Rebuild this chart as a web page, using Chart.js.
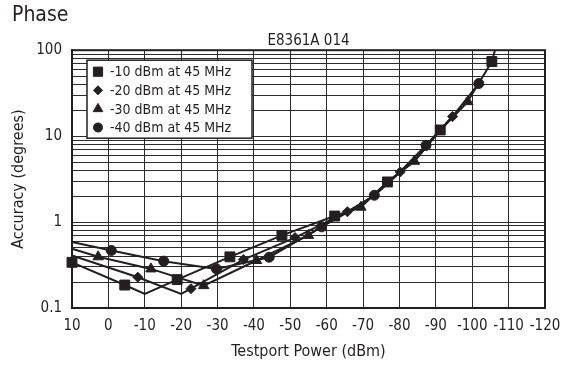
<!DOCTYPE html>
<html>
<head>
<meta charset="utf-8">
<script src="https://cdn.jsdelivr.net/npm/chart.js@4/dist/chart.umd.min.js"></script>
<style>
  html, body { margin: 0; padding: 0; background: #fff; }
  #wrap { width: 565px; height: 368px; }
</style>
</head>
<body>
<div id="wrap"><canvas id="phaseChart"></canvas></div>
<script>
const FONT = "'DejaVu Sans Condensed', 'Liberation Sans Narrow', sans-serif";
const INK = '#231f20';

const seriesNames = ['-10 dBm at 45 MHz', '-20 dBm at 45 MHz', '-30 dBm at 45 MHz', '-40 dBm at 45 MHz'];
const xTickValues = [10, 0, -10, -20, -30, -40, -50, -60, -70, -80, -90, -100, -110, -120];
const yTickLabels = [0.1, 1, 10, 100];

// mark: 1 = a marker is drawn at that point, 0 = only a bend of the line
// -10 dBm (squares)
const sqX    = [10,   -4.5,  -10,   -18.9, -33.4, -47.7, -62.2, -69.4, -76.7, -84.1, -91.2, -98.8, -105.4, -107];
const sqY    = [0.34, 0.185, 0.146, 0.214, 0.394, 0.70,  1.175, 1.50,  2.93,  5.1,   11.8,  25.5,  73.8,   130];
const sqMark = [1,    1,     0,     1,     1,     1,     1,     0,     1,     0,     1,     0,     1,      0];

// -20 dBm (diamonds)
const diX    = [10,   -8.1,  -20,   -22.7, -37.1, -51.3, -65.7, -73.1, -80.2, -87.3, -94.6];
const diY    = [0.408, 0.228, 0.146, 0.168, 0.366, 0.66, 1.32,  2.03,  3.83,  7.8,   16.9];
const diMark = [0,    1,     0,     1,     1,     1,     1,     0,     1,     0,     1];

// -30 dBm (triangles)
const trX    = [10,   2.8,   -11.7, -26.2, -40.7, -55,  -62.2, -69.4, -76.7, -84.1, -91.2, -98.8];
const trY    = [0.489, 0.394, 0.285, 0.182, 0.357, 0.70, 1.14,  1.49,  2.95,  5.1,   11.7,  25.2];
const trMark = [0,    1,     1,     1,     1,     1,    0,     1,     0,     1,     0,     1];

// -40 dBm (circles)
const ciX    = [10,   -0.8,  -15.2, -29.7, -44.2, -58.6, -65.7, -73.1, -80.2, -87.3, -94.6, -101.8];
const ciY    = [0.585, 0.467, 0.351, 0.285, 0.39, 0.88,  1.30,  2.05,  3.85,  7.8,   17.0,  40.9];
const ciMark = [0,    1,     1,     1,     1,     1,     0,     1,     0,     1,     0,     1];

const toPoints = (xs, ys) => xs.map((x, i) => ({ x: x, y: ys[i] }));

const makeSeries = (label, xs, ys, marks, style, radius) => ({
  label: label,
  data: toPoints(xs, ys),
  borderColor: INK,
  backgroundColor: INK,
  borderWidth: 2,
  tension: 0,
  pointStyle: style,
  legendRadius: radius,
  pointRadius: (c) => (marks[c.dataIndex] ? radius : 0),
  pointHoverRadius: (c) => (marks[c.dataIndex] ? radius : 0),
  pointBorderWidth: 1,
  pointBorderColor: INK,
  pointBackgroundColor: INK,
  clip: { left: 10, top: 0, right: 10, bottom: 10 }
});

// frame, subtitle and the boxed legend inside the plot
const boxPlugin = {
  id: 'boxPlugin',
  afterDraw(chart) {
    const { ctx, chartArea: a } = chart;
    ctx.save();
    ctx.strokeStyle = INK;
    ctx.lineWidth = 2;
    ctx.strokeRect(a.left, a.top, a.right - a.left, a.bottom - a.top);

    ctx.fillStyle = INK;
    ctx.font = '15px ' + FONT;
    ctx.textAlign = 'center';
    ctx.textBaseline = 'alphabetic';
    ctx.fillText('E8361A 014', (a.left + a.right) / 2, a.top - 5);

    const bx = a.left + 15, by = a.top + 10, bw = 165, bh = 78;
    ctx.fillStyle = '#fff';
    ctx.fillRect(bx, by, bw, bh);
    ctx.lineWidth = 1.5;
    ctx.strokeRect(bx, by, bw, bh);

    ctx.font = '14px ' + FONT;
    ctx.textAlign = 'left';
    ctx.textBaseline = 'middle';
    chart.data.datasets.forEach((ds, i) => {
      const y = by + 11.5 + i * 18.6;
      ctx.fillStyle = INK;
      ctx.strokeStyle = INK;
      ctx.lineWidth = 1;
      Chart.helpers.drawPoint(ctx, { pointStyle: ds.pointStyle, radius: ds.legendRadius - 0.5, borderWidth: 1, rotation: 0 }, bx + 11, y);
      ctx.fillStyle = INK;
      ctx.fillText(ds.label, bx + 23, y + 1);
    });
    ctx.restore();
  }
};

const ctxPhase = document.getElementById('phaseChart').getContext('2d');

const phaseChart = new Chart(ctxPhase, {
  type: 'line',
  data: {
    datasets: [
      makeSeries(seriesNames[0], sqX, sqY, sqMark, 'rect', 7),
      makeSeries(seriesNames[1], diX, diY, diMark, 'rectRot', 5),
      makeSeries(seriesNames[2], trX, trY, trMark, 'triangle', 6),
      makeSeries(seriesNames[3], ciX, ciY, ciMark, 'circle', 5)
    ]
  },
  options: {
    responsive: true,
    maintainAspectRatio: false,
    animation: false,
    layout: { padding: { left: 12, right: 20, top: 0, bottom: 0 } },
    plugins: {
      legend: { display: false },
      tooltip: { enabled: false },
      title: {
        display: true,
        text: 'Phase',
        align: 'start',
        color: INK,
        font: { family: FONT, size: 21, weight: 'normal', lineHeight: 1.2 },
        padding: { top: 3, bottom: 22 }
      }
    },
    scales: {
      x: {
        type: 'linear',
        min: -120,
        max: 10,
        reverse: true,
        afterBuildTicks: (scale) => { scale.ticks = xTickValues.map(v => ({ value: v })); },
        afterFit: (scale) => {
          scale.height = 60;
          scale.paddingLeft = 0;
          scale.paddingRight = 0;
        },
        ticks: {
          color: INK,
          font: { family: FONT, size: 15 },
          padding: 9,
          maxRotation: 0,
          autoSkip: false,
          callback: (v) => String(v)
        },
        grid: { color: '#2b2b2b', lineWidth: 1, drawTicks: false },
        border: { color: INK, width: 2 },
        title: {
          display: true,
          text: 'Testport Power (dBm)',
          color: INK,
          font: { family: FONT, size: 16, lineHeight: 1 },
          padding: { top: 0, bottom: 8 }
        }
      },
      y: {
        type: 'logarithmic',
        min: 0.1,
        max: 100,
        afterBuildTicks: (scale) => {
          const t = [];
          yTickLabels.slice(0, -1).forEach(d => {
            for (let k = 1; k < 10; k++) t.push({ value: +(d * k).toPrecision(3) });
          });
          t.push({ value: yTickLabels[yTickLabels.length - 1] });
          scale.ticks = t;
        },
        afterFit: (scale) => {
          scale.width = 60;
          scale.paddingTop = 0;
          scale.paddingBottom = 0;
        },
        ticks: {
          color: INK,
          font: { family: FONT, size: 15 },
          padding: 10,
          autoSkip: false,
          callback: (v) => (yTickLabels.includes(v) ? String(v) : '')
        },
        grid: { color: '#2b2b2b', lineWidth: 1, drawTicks: false },
        border: { color: INK, width: 2 },
        title: {
          display: true,
          text: 'Accuracy (degrees)',
          color: INK,
          font: { family: FONT, size: 16, lineHeight: 1 },
          padding: { top: -1, bottom: 0 }
        }
      }
    }
  },
  plugins: [boxPlugin]
});
</script>
</body>
</html>
